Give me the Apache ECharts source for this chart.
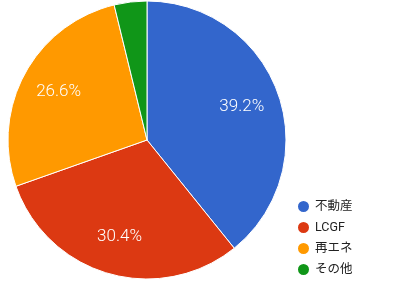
<!DOCTYPE html>
<html><head><meta charset="utf-8">
<script src="https://cdn.jsdelivr.net/npm/echarts@6/dist/echarts.min.js"></script>
<style>html,body{margin:0;padding:0;background:#fff}#c{width:420px;height:284px}</style>
</head><body><div id="c"></div>
<script>
const categories = ['不動産', 'LCGF', '再エネ', 'その他'];
const values = [39.2, 30.4, 26.6, 3.8];
const colors = ['#3366cc', '#dc3912', '#ff9900', '#109618'];

const data = categories.map((n, i) => ({ name: n, value: values[i], itemStyle: { color: colors[i] } }));
const chart = echarts.init(document.getElementById('c'), null, { renderer: 'canvas' });
chart.setOption({
  animation: false,
  legend: {
    orient: 'vertical', left: 291, top: 194, height: 100,
    icon: 'circle', itemWidth: 13, itemHeight: 13, itemGap: 6,
    textStyle: { fontSize: 12.5, color: '#222', fontFamily: 'Roboto, "Noto Sans CJK JP", sans-serif' },
    data: categories
  },
  series: [
    {
      type: 'pie', center: [147, 140], radius: [0, 139], startAngle: 90, clockwise: true,
      label: { show: false }, labelLine: { show: false },
      itemStyle: { borderColor: '#fff', borderWidth: 1 },
      silent: true, data: data
    },
    {
      type: 'pie', center: [147, 140], radius: [56, 139], startAngle: 90, clockwise: true,
      legendHoverLink: false, silent: true,
      itemStyle: { color: 'rgba(0,0,0,0)' },
      label: {
        show: true, position: 'inside', color: '#fff', fontSize: 17,
        fontFamily: 'Roboto, sans-serif', fontWeight: 300,
        formatter: p => p.value >= 5 ? p.value.toFixed(1) + '%' : ''
      },
      labelLine: { show: false },
      data: categories.map((n, i) => ({ name: n + ' ', value: values[i] }))
    }
  ]
});
</script></body></html>
